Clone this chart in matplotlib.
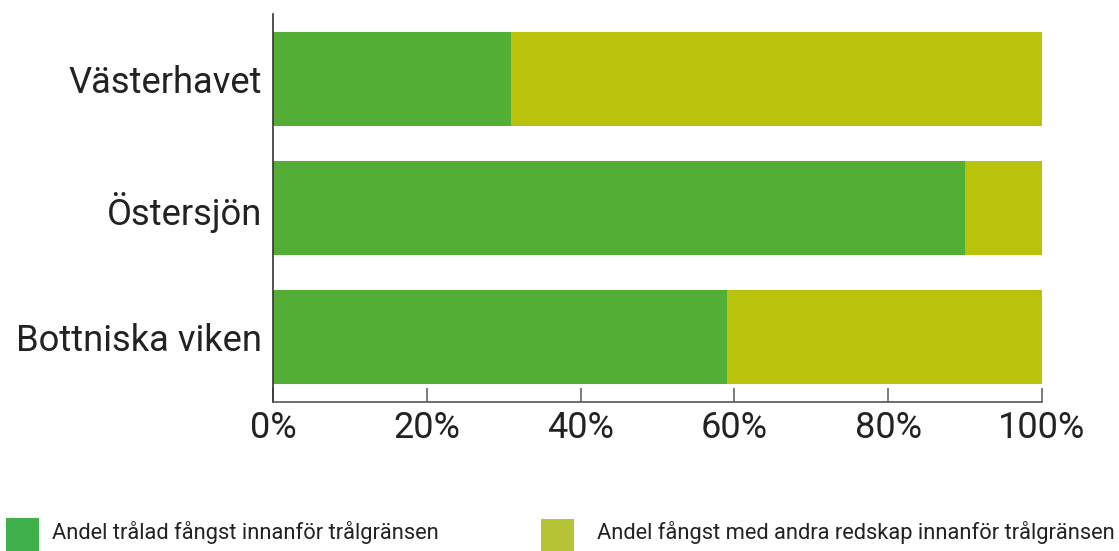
import matplotlib
matplotlib.use("Agg")
import matplotlib.pyplot as plt
from matplotlib.patches import Rectangle
from matplotlib.ticker import FuncFormatter

categories = ["Västerhavet", "Östersjön", "Bottniska viken"]
trawled = [31, 90, 59]
other = [69, 10, 41]
series_labels = ["Andel trålad fångst innanför trålgränsen",
                 "Andel fångst med andra redskap innanför trålgränsen"]
xticks = [0, 20, 40, 60, 80, 100]

bar_colors = ["#52ae34", "#bac30b"]
legend_colors = ["#3fb04a", "#b5c334"]

plt.rcParams['font.family'] = ['Roboto', 'DejaVu Sans']

fig = plt.figure(figsize=(11.19, 5.51), dpi=100)
ax = fig.add_axes([273/1119, 1-402/551, (1042-273)/1119, (402-14)/551])

y = list(range(len(categories)))
ax.barh(y, trawled, height=0.73, color=bar_colors[0], label=series_labels[0])
ax.barh(y, other, left=trawled, height=0.73, color=bar_colors[1], label=series_labels[1])

ax.set_xlim(0, 100)
ax.set_ylim(len(categories) - 0.496, -0.504)
ax.set_yticks(y)
ax.set_yticklabels(categories, fontsize=26.2, color="#222222")
ax.set_xticks(xticks)
ax.xaxis.set_major_formatter(FuncFormatter(lambda v, p: f"{int(v)}%"))
ax.tick_params(axis='x', direction='in', length=10, width=1.2, color="#666666",
               labelsize=26, labelcolor="#222222", pad=6)
ax.tick_params(axis='y', length=0, pad=8)
for s in ["top", "right"]:
    ax.spines[s].set_visible(False)
ax.spines["left"].set_color("#333333")
ax.spines["bottom"].set_color("#555555")
ax.spines["left"].set_linewidth(1.2)
ax.spines["bottom"].set_linewidth(1.2)

# legend
W, H = 1119, 551
patches = [(6, 518), (541, 519)]
text_x = [52, 597]
for (px, py), tx, c, lab in zip(patches, text_x, legend_colors, series_labels):
    fig.add_artist(Rectangle((px / W, 1 - (py + 33) / H), 33 / W, 33 / H,
                             transform=fig.transFigure, color=c, lw=0))
    fig.text(tx / W, 1 - 533 / H, lab, fontsize=15.75, color="#222222",
             va='center', ha='left')

fig.savefig("out.png", dpi=100)
